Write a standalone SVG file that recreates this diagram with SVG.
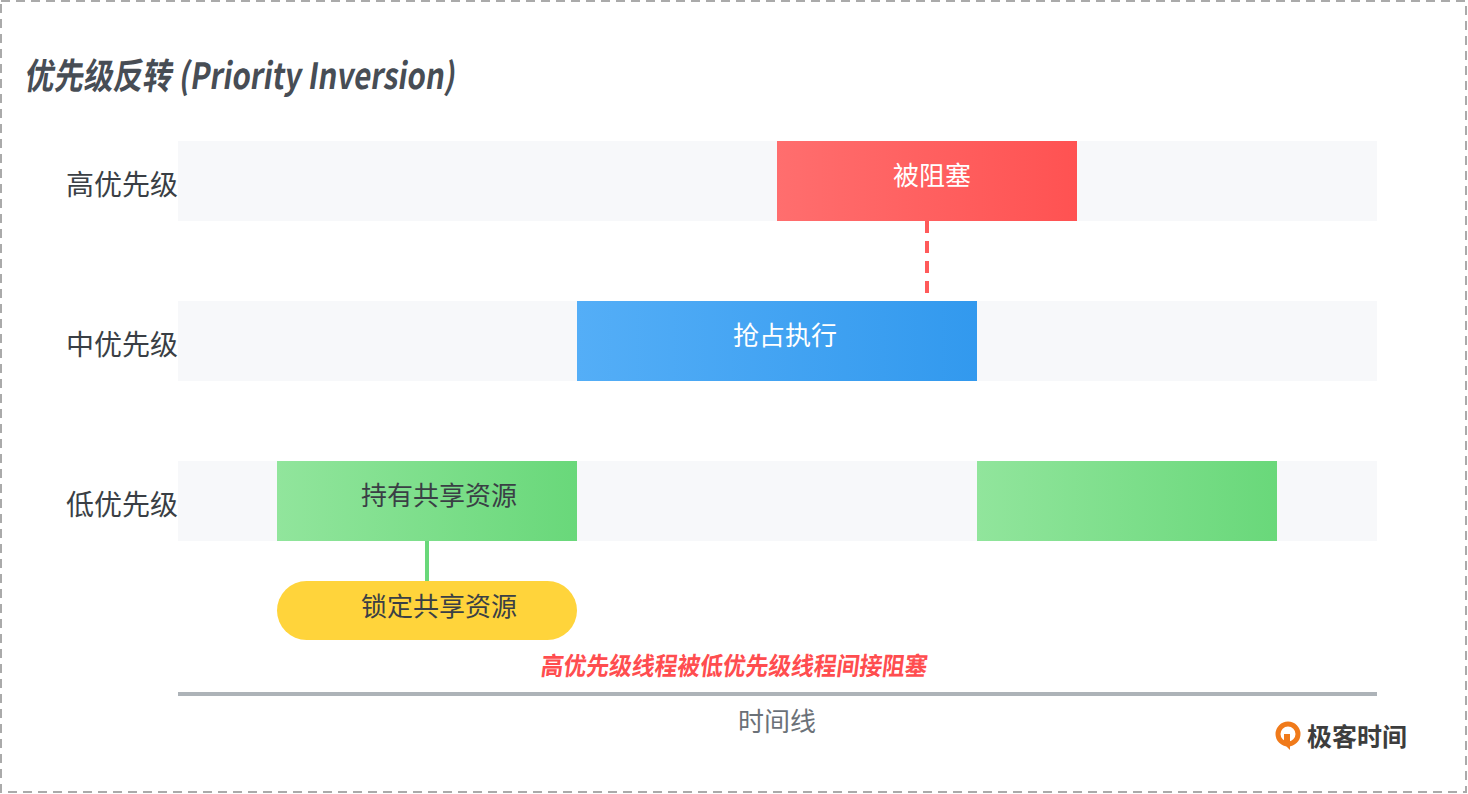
<svg xmlns="http://www.w3.org/2000/svg" width="1468" height="794" viewBox="0 0 1468 794">
<style>
.cn{font-family:"Noto Sans CJK SC","Liberation Sans",sans-serif}
.lbl{font-size:28px;fill:#3a3f45}
.bar{fill:#f7f8fa}
.wt{font-size:26px;fill:#fff}
.dk{font-size:26px;fill:#3a3f45}
</style>
<defs>
<linearGradient id="gr" x1="0" x2="1"><stop offset="0" stop-color="#ff6e6e"/><stop offset="1" stop-color="#ff5252"/></linearGradient>
<linearGradient id="gb" x1="0" x2="1"><stop offset="0" stop-color="#54aef7"/><stop offset="1" stop-color="#3299ee"/></linearGradient>
<linearGradient id="gg" x1="0" x2="1"><stop offset="0" stop-color="#91e59c"/><stop offset="1" stop-color="#69d87a"/></linearGradient>
</defs>
<rect x="0" y="0" width="1468" height="794" fill="#fff"/>
<rect x="1" y="1" width="1465" height="791" fill="none" stroke="#aaa" stroke-width="2" stroke-dasharray="9 6"/>
<text class="cn" x="0" y="0" font-size="36" font-weight="bold" fill="#474d55" transform="translate(24,89) scale(0.82,1) skewX(-10)">优先级反转 (Priority Inversion)</text>
<g id="rows">
<rect class="bar" x="178" y="141" width="1199" height="80"/>
<rect class="bar" x="178" y="301" width="1199" height="80"/>
<rect class="bar" x="178" y="461" width="1199" height="80"/>
<text class="cn lbl" x="66" y="195">高优先级</text>
<text class="cn lbl" x="66" y="355">中优先级</text>
<text class="cn lbl" x="66" y="515">低优先级</text>
</g>
<g id="connectors">
<line x1="927" y1="221" x2="927" y2="301" stroke="#ff5a5a" stroke-width="4" stroke-dasharray="12 8"/>
<line x1="427" y1="541" x2="427" y2="582" stroke="#69d87a" stroke-width="4"/>
</g>
<g id="blocked"><rect x="777" y="141" width="300" height="80" fill="url(#gr)"/><text class="cn wt" x="932" y="185" text-anchor="middle">被阻塞</text></g>
<g id="preempt"><rect x="577" y="301" width="400" height="80" fill="url(#gb)"/><text class="cn wt" x="785" y="345" text-anchor="middle">抢占执行</text></g>
<g id="hold"><rect x="277" y="461" width="300" height="80" fill="url(#gg)"/><text class="cn dk" x="439" y="505" text-anchor="middle">持有共享资源</text></g>
<g id="low2"><rect x="977" y="461" width="300" height="80" fill="url(#gg)"/></g>
<g id="lock"><rect x="277" y="581" width="300" height="59" rx="29.5" fill="#ffd43b"/><text class="cn dk" x="439" y="616" text-anchor="middle">锁定共享资源</text></g>
<text class="cn" x="0" y="0" font-size="25" font-weight="bold" fill="#ff4d4f" transform="translate(540,675) scale(0.91,1) skewX(-8)">高优先级线程被低优先级线程间接阻塞</text>
<g id="axis"><rect x="178" y="692" width="1199" height="4" fill="#adb3b8"/><text class="cn" x="777" y="731" font-size="26" fill="#6b7178" text-anchor="middle">时间线</text></g>
<g id="logo">
<circle cx="1288" cy="734" r="10" fill="none" stroke="#f07a1a" stroke-width="5"/>
<path d="M1284 734 L1290 734 L1290 750 L1284 744 Z" fill="#f07a1a"/>
<text class="cn" x="1307" y="746" font-size="25" font-weight="bold" fill="#3d3d3d">极客时间</text>
</g>
</svg>
